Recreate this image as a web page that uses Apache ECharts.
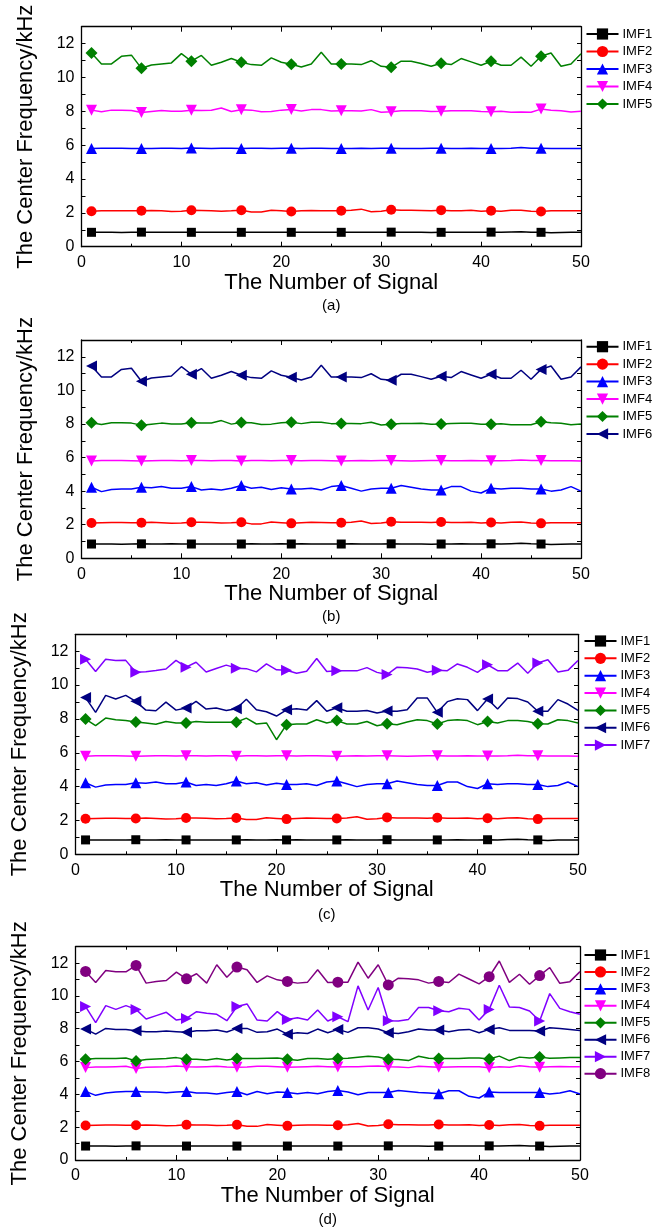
<!DOCTYPE html>
<html lang="en">
<head>
<meta charset="utf-8">
<title>IMF center frequency</title>
<script src="https://cdn.jsdelivr.net/npm/echarts@6/dist/echarts.min.js"></script>
<style>
  html, body { margin: 0; padding: 0; background: #fff; }
  #main { width: 662px; height: 1232px; }
</style>
</head>
<body>
<div id="main"></div>
<script>
// signal numbers (x) and tick values
var signalNo = [1,2,3,4,5,6,7,8,9,10,11,12,13,14,15,16,17,18,19,20,21,22,23,24,25,26,27,28,29,30,31,32,33,34,35,36,37,38,39,40,41,42,43,44,45,46,47,48,49,50];
var yLabelVals = [0, 2, 4, 6, 8, 10, 12];
var yTickVals = [0,1,2,3,4,5,6,7,8,9,10,11,12,13];
var captions = ['(a)', '(b)', '(c)', '(d)'];

// shared low modes
var imf1 = [0.85,0.85,0.85,0.84,0.85,0.86,0.85,0.85,0.86,0.85,0.85,0.85,0.85,0.85,0.85,0.85,0.86,0.85,0.85,0.86,0.85,0.86,0.85,0.85,0.85,0.85,0.86,0.85,0.85,0.85,0.86,0.85,0.85,0.85,0.84,0.85,0.85,0.86,0.85,0.85,0.86,0.85,0.87,0.89,0.86,0.85,0.82,0.84,0.85,0.85];
var imf2 = [2.10,2.12,2.13,2.13,2.12,2.12,2.14,2.12,2.08,2.10,2.15,2.14,2.13,2.10,2.12,2.15,2.05,2.05,2.16,2.12,2.08,2.12,2.14,2.13,2.12,2.12,2.15,2.22,2.07,2.10,2.18,2.15,2.15,2.14,2.13,2.16,2.13,2.13,2.15,2.10,2.13,2.10,2.15,2.16,2.10,2.08,2.12,2.12,2.12,2.12];
// ~5.8 kHz mode
var mode58 = [5.80,5.82,5.82,5.82,5.81,5.80,5.81,5.82,5.82,5.81,5.83,5.82,5.81,5.82,5.82,5.80,5.82,5.82,5.81,5.82,5.82,5.81,5.82,5.82,5.81,5.80,5.81,5.82,5.81,5.82,5.82,5.81,5.80,5.81,5.82,5.82,5.81,5.81,5.82,5.81,5.81,5.81,5.82,5.86,5.82,5.82,5.81,5.81,5.81,5.80];
// ~8 kHz mode
var mode80 = [8.07,7.97,8.07,8.07,8.05,7.93,7.99,8.05,8.00,8.00,8.07,8.05,8.06,8.20,7.99,8.09,8.07,7.97,7.99,8.07,8.10,8.02,8.10,8.10,8.02,8.03,8.03,8.02,8.10,7.94,7.98,8.03,8.03,8.04,7.99,8.00,8.03,8.04,8.04,7.99,7.98,8.01,7.95,7.96,7.95,8.13,8.07,8.04,7.96,8.00];
// ~11 kHz mode
var mode110 = [11.45,10.80,10.80,11.25,11.32,10.54,10.74,10.80,10.86,11.41,10.96,11.30,10.72,10.90,11.12,10.90,10.76,10.72,11.16,10.90,10.78,10.62,10.80,11.49,10.80,10.80,10.80,10.76,10.99,10.66,10.60,10.96,10.96,10.82,10.66,10.84,10.76,11.12,10.92,10.72,10.96,10.72,10.72,11.20,10.66,11.25,11.45,10.66,10.80,11.40];
// ~4.1 kHz mode (b, c)
var mode41 = [4.23,3.97,4.10,4.13,4.13,4.23,4.20,4.27,4.17,4.17,4.27,4.07,4.13,4.07,4.17,4.33,4.17,4.23,4.10,4.20,4.13,4.13,4.17,4.07,4.27,4.33,4.17,4.00,4.13,4.17,4.17,4.33,4.23,4.13,4.07,4.07,4.27,4.27,4.00,3.89,4.17,4.13,4.17,4.17,4.13,4.13,4.00,4.07,4.27,4.00];
// panel (c)
var imf5c = [7.99,7.60,8.05,7.95,7.91,7.82,7.76,7.68,7.85,7.76,7.76,7.85,7.80,7.80,7.80,7.80,8.05,7.70,7.76,6.77,7.66,7.70,7.70,7.95,7.76,7.90,7.70,7.70,7.85,7.60,7.72,7.66,7.82,7.95,7.90,7.70,7.90,7.95,7.90,7.66,7.85,7.76,7.90,7.90,7.85,7.72,7.70,7.95,7.90,7.76];
var imf6c = [9.26,8.39,9.39,9.18,9.39,9.04,8.52,8.48,8.99,8.52,8.64,9.04,8.58,8.64,8.50,8.60,9.16,8.54,8.42,8.17,8.54,8.60,8.52,9.08,8.45,8.66,8.45,8.45,8.50,8.35,8.47,8.45,8.54,9.24,9.24,8.39,9.02,9.19,9.14,8.49,9.18,8.59,9.24,9.20,9.00,8.45,8.45,9.14,8.88,8.50];
var imf7c = [11.52,10.80,11.52,11.45,11.46,10.76,10.79,10.86,10.95,11.46,11.06,11.35,10.77,10.98,11.18,11.00,10.97,10.78,11.25,10.90,10.88,10.70,10.82,11.57,10.80,10.84,10.84,10.84,11.03,10.75,10.62,11.06,11.02,10.95,10.76,10.87,10.85,11.25,11.05,10.75,11.20,10.85,10.85,11.30,10.70,11.30,11.50,10.77,10.87,11.45];
// panel (d)
var imf3d = [4.18,3.94,4.08,4.14,4.18,4.18,4.14,4.14,4.10,4.14,4.18,4.08,4.08,4.02,4.12,4.18,3.98,4.18,4.04,4.14,4.12,4.04,4.12,4.04,4.18,4.24,4.14,3.98,4.12,4.12,4.12,4.24,4.18,4.12,4.08,4.04,4.22,4.22,3.88,3.78,4.14,4.12,4.12,4.12,4.12,4.12,4.02,4.08,4.22,4.02];
var imf4d = [5.63,5.67,5.67,5.69,5.71,5.57,5.65,5.67,5.69,5.73,5.69,5.67,5.69,5.71,5.67,5.65,5.67,5.71,5.71,5.69,5.65,5.67,5.69,5.71,5.69,5.67,5.69,5.69,5.71,5.73,5.69,5.67,5.63,5.71,5.69,5.65,5.67,5.69,5.69,5.69,5.62,5.69,5.65,5.75,5.69,5.65,5.69,5.70,5.69,5.68];
var imf5d = [6.14,6.18,6.18,6.18,6.22,6.04,6.12,6.16,6.18,6.24,6.14,6.14,6.10,6.18,6.10,6.18,6.18,6.18,6.20,6.22,6.14,6.08,6.18,6.18,6.14,6.18,6.20,6.26,6.32,6.28,6.14,6.12,6.06,6.32,6.20,6.18,6.18,6.18,6.22,6.22,6.16,6.33,6.06,6.27,6.22,6.27,6.20,6.22,6.24,6.24];
var imf6d = [7.98,7.67,8.02,7.96,7.96,7.88,7.82,7.82,7.86,7.82,7.78,7.88,7.88,7.92,7.80,8.02,8.02,7.78,7.82,7.98,7.67,7.76,7.71,7.98,7.76,7.96,7.78,8.06,8.06,7.98,7.76,7.71,7.82,7.98,7.92,7.92,7.82,7.92,7.96,7.76,7.96,8.06,7.90,7.90,7.90,7.86,8.06,8.02,7.96,7.90];
var imf7d = [9.35,8.37,9.41,9.18,9.41,9.18,8.59,8.80,9.00,8.53,8.63,9.04,8.94,8.88,8.49,9.35,9.51,8.53,8.47,9.04,8.57,8.67,8.53,9.14,8.47,8.73,8.43,10.61,9.14,10.51,8.49,8.47,8.57,9.29,9.29,9.10,9.04,9.25,9.18,8.53,9.18,10.65,9.33,9.29,9.08,8.47,10.14,9.24,9.04,8.88];
var imf8d = [11.49,10.82,11.55,11.47,11.47,11.86,10.78,10.88,10.94,11.45,11.04,11.35,10.78,11.90,11.14,11.76,11.60,10.82,11.22,10.98,10.88,10.78,10.84,11.59,10.82,10.84,10.84,12.06,11.08,11.90,10.67,11.08,11.04,10.98,10.78,10.88,10.82,11.33,11.03,10.73,11.17,12.13,10.83,11.32,10.71,11.24,11.73,10.77,10.87,11.48];

// which arrays go in which panel, in legend order
var panels = [
  [imf1, imf2, mode58, mode80, mode110],
  [imf1, imf2, mode41, mode58, mode80, mode110],
  [imf1, imf2, mode41, mode58, imf5c, imf6c, imf7c],
  [imf1, imf2, imf3d, imf4d, imf5d, imf6d, imf7d, imf8d]
];

var FONT = 'Liberation Sans, Arial, sans-serif';
var styles = [
  {color: '#000000', symbol: 'rect', size: 9, rot: 0},
  {color: '#ff0000', symbol: 'circle', size: 10, rot: 0},
  {color: '#0000ff', symbol: 'triangle', size: 11, rot: 0},
  {color: '#ff00ff', symbol: 'triangle', size: 11, rot: 180},
  {color: '#008000', symbol: 'diamond', size: 12, rot: 0},
  {color: '#000080', symbol: 'triangle', size: 11, rot: 90},
  {color: '#8000ff', symbol: 'triangle', size: 11, rot: -90},
  {color: '#800080', symbol: 'circle', size: 11, rot: 0}
];

// layout of each panel
var grids = [
  {left: 81.5, top: 26.7, width: 499.5, height: 220},
  {left: 81.5, top: 340, width: 499.5, height: 218.3},
  {left: 75.5, top: 634.3, width: 502.5, height: 220},
  {left: 75.5, top: 946.7, width: 504.5, height: 213.3}
];
var legendTop = [22, 334.7, 629, 943];
var legendLeft = [580.5, 580.5, 578.5, 578.5];
var legendGap = [3.5, 3.45, 3.35, 2.95];
var captionY = [306, 617, 915, 1220];

var axisLine = {show: true, onZero: false, lineStyle: {color: '#000', width: 1.3}};
var xAxes = [], yAxes = [], series = [], legends = [], graphics = [];

grids.forEach(function (g, gi) {
  xAxes.push({
    gridIndex: gi, type: 'value', min: 0, max: 50, interval: 10,
    axisLine: axisLine,
    axisTick: {show: true, inside: true, length: 5, lineStyle: {color: '#000', width: 1}},
    minorTick: {show: true, splitNumber: 2, length: 3, lineStyle: {color: '#000', width: 1}},
    axisLabel: {color: '#000', fontSize: 16, fontFamily: FONT, margin: 8},
    splitLine: {show: false},
    name: 'The Number of Signal', nameLocation: 'middle', nameGap: 25,
    nameTextStyle: {color: '#000', fontSize: 22, fontFamily: FONT}
  });
  xAxes.push({
    gridIndex: gi, type: 'value', position: 'top', min: 0, max: 50, interval: 10,
    axisLine: axisLine,
    axisTick: {show: true, inside: true, length: 5, lineStyle: {color: '#000', width: 1}},
    minorTick: {show: true, splitNumber: 2, length: 3, lineStyle: {color: '#000', width: 1}},
    axisLabel: {show: false}, splitLine: {show: false}
  });
  yAxes.push({
    gridIndex: gi, type: 'value', min: 0, max: 13,
    axisLine: axisLine,
    axisTick: {show: true, inside: true, length: 4, customValues: yTickVals, lineStyle: {color: '#000', width: 1}},
    axisLabel: {color: '#000', fontSize: 16, fontFamily: FONT, margin: 7, customValues: yLabelVals},
    splitLine: {show: false},
    name: 'The Center Frequency/kHz', nameLocation: 'middle', nameGap: 45,
    nameTextStyle: {color: '#000', fontSize: 22, fontFamily: FONT}
  });
  yAxes.push({
    gridIndex: gi, type: 'value', position: 'right', min: 0, max: 13,
    axisLine: axisLine,
    axisTick: {show: true, inside: true, length: 4, customValues: yTickVals, lineStyle: {color: '#000', width: 1}},
    axisLabel: {show: false}, splitLine: {show: false}
  });

  var names = [];
  panels[gi].forEach(function (vals, si) {
    var st = styles[si];
    var name = 'IMF' + (si + 1);
    names.push(name);
    series.push({
      name: name, type: 'line',
      xAxisIndex: gi * 2, yAxisIndex: gi * 2,
      data: signalNo.map(function (x, i) { return [x, vals[i]]; }),
      symbol: st.symbol, symbolRotate: st.rot,
      symbolSize: (function (sz) {
        return function (v, p) { return p.dataIndex % 5 === 0 ? sz : 0; };
      })(st.size),
      showSymbol: true,
      lineStyle: {color: st.color, width: 1.5},
      itemStyle: {color: st.color},
      emphasis: {disabled: true}
    });
  });

  legends.push({
    data: names, orient: 'vertical',
    left: legendLeft[gi], top: legendTop[gi],
    itemWidth: 32, itemHeight: 14, itemGap: legendGap[gi],
    textStyle: {color: '#000', fontSize: 13, fontFamily: FONT, lineHeight: 14, padding: [0, 0, 0, -1]},
    selectedMode: false
  });

  graphics.push({
    type: 'text', x: g.left + g.width / 2, y: captionY[gi],
    style: {text: captions[gi], fill: '#000', font: '15px ' + FONT, textAlign: 'center', textVerticalAlign: 'middle'}
  });
});

var chart = echarts.init(document.getElementById('main'));
chart.setOption({
  animation: false,
  backgroundColor: '#fff',
  grid: grids,
  xAxis: xAxes,
  yAxis: yAxes,
  legend: legends,
  graphic: graphics,
  series: series
});
</script>
</body>
</html>
